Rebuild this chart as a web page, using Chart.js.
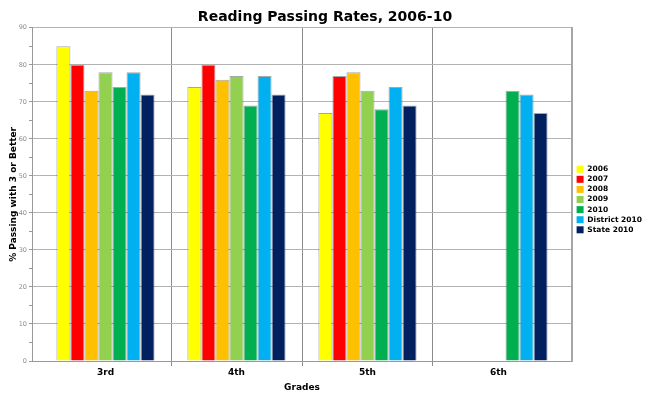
<!DOCTYPE html>
<html>
<head>
<meta charset="utf-8">
<script src="https://cdn.jsdelivr.net/npm/chart.js@4/dist/chart.umd.min.js"></script>
<style>
  html, body { margin: 0; padding: 0; background: #ffffff; }
  #wrap { width: 650px; height: 399px; position: relative; }
</style>
</head>
<body>
<div id="wrap"><canvas id="c" width="650" height="399"></canvas></div>
<script>
const categories = ['3rd', '4th', '5th', '6th'];
const seriesNames = ['2006', '2007', '2008', '2009', '2010', 'District 2010', 'State 2010'];
const s2006 = [85, 74, 67, null];
const s2007 = [80, 80, 77, null];
const s2008 = [73, 76, 78, null];
const s2009 = [78, 77, 73, null];
const s2010 = [74, 69, 68, 73];
const sDistrict2010 = [78, 77, 74, 72];
const sState2010 = [72, 72, 69, 67];
const yTicks = { min: 0, max: 90, step: 5, labelEvery: 10 };

const seriesValues = [s2006, s2007, s2008, s2009, s2010, sDistrict2010, sState2010];
const colors = ['#FFFF00', '#FF0000', '#FFC000', '#92D050', '#00B050', '#00B0F0', '#002060'];
const FONT = "'DejaVu Sans', Verdana, sans-serif";

const datasets = seriesNames.map((name, k) => ({
  label: name,
  data: seriesValues[k].map((v, i) => ({ x: i, y: v })),
  backgroundColor: colors[k],
  borderColor: 'rgba(0,0,0,0.35)',
  borderWidth: 1,
  categoryPercentage: 0.75,
  barPercentage: 1.0
}));

const edge = 8 / 131;
const sepColor = (ctx) => (ctx.type !== 'tick' || ctx.index === 0) ? 'transparent' : '#8c8c8c';

new Chart(document.getElementById('c'), {
  type: 'bar',
  data: { datasets },
  options: {
    responsive: false,
    animation: false,
    devicePixelRatio: 1,
    layout: { padding: { left: 0, right: 0, top: 0, bottom: 0 } },
    plugins: {
      tooltip: { enabled: false },
      title: {
        display: true,
        text: 'Reading Passing Rates, 2006-10',
        color: '#000',
        font: { family: FONT, size: 14, weight: 'bold' },
        padding: { top: 9, bottom: 2 }
      },
      legend: {
        position: 'right',
        maxWidth: 76,
        labels: {
          boxWidth: 7,
          boxHeight: 7,
          padding: 2.6,
          color: '#000',
          font: { family: FONT, size: 7.5, weight: 'bold' },
          generateLabels: (chart) => {
            const items = Chart.defaults.plugins.legend.labels.generateLabels(chart);
            items.forEach(it => { it.lineWidth = 0; it.strokeStyle = 'transparent'; });
            return items;
          }
        }
      }
    },
    scales: {
      x: {
        type: 'linear',
        offset: false,
        min: -0.5 - edge,
        max: categories.length - 0.5 + edge,
        afterBuildTicks: (s) => { s.ticks = categories.map((c, i) => ({ value: i })); },
        afterFit: (s) => { s.height = 38; },
        ticks: {
          autoSkip: false,
          maxRotation: 0,
          padding: 1,
          color: '#000',
          font: { family: FONT, size: 9, weight: 'bold' },
          callback: (v) => categories[v]
        },
        grid: {
          offset: true,
          color: sepColor,
          tickColor: sepColor,
          tickLength: 5,
          lineWidth: 1
        },
        border: { display: true, color: '#999', width: 1 },
        title: {
          display: true,
          text: 'Grades',
          color: '#000',
          font: { family: FONT, size: 9, weight: 'bold' },
          padding: { top: 0, bottom: 6 }
        }
      },
      y: {
        min: yTicks.min,
        max: yTicks.max,
        afterFit: (s) => { s.width = 32; },
        ticks: {
          stepSize: yTicks.step,
          autoSkip: false,
          padding: 2,
          color: '#8c8c8c',
          font: { family: FONT, size: 6.5 },
          callback: (v) => (v % yTicks.labelEvery === 0 ? v : '')
        },
        grid: {
          color: (ctx) => (ctx.tick && ctx.tick.value % yTicks.labelEvery === 0) ? '#b3b3b3' : 'transparent',
          tickColor: '#999',
          tickLength: 3,
          lineWidth: 1
        },
        border: { display: true, color: '#999', width: 1 },
        title: {
          display: true,
          text: '% Passing with 3 or Better',
          color: '#000',
          font: { family: FONT, size: 9, weight: 'bold' },
          padding: { top: 8, bottom: 0 }
        }
      },
      yRight: {
        type: 'linear',
        position: 'right',
        display: true,
        min: yTicks.min,
        max: yTicks.max,
        afterFit: (s) => { s.width = 2; },
        ticks: { display: false },
        grid: { display: false, drawTicks: false },
        border: { display: true, color: '#a6a6a6', width: 2 }
      }
    }
  }
});
</script>
</body>
</html>
